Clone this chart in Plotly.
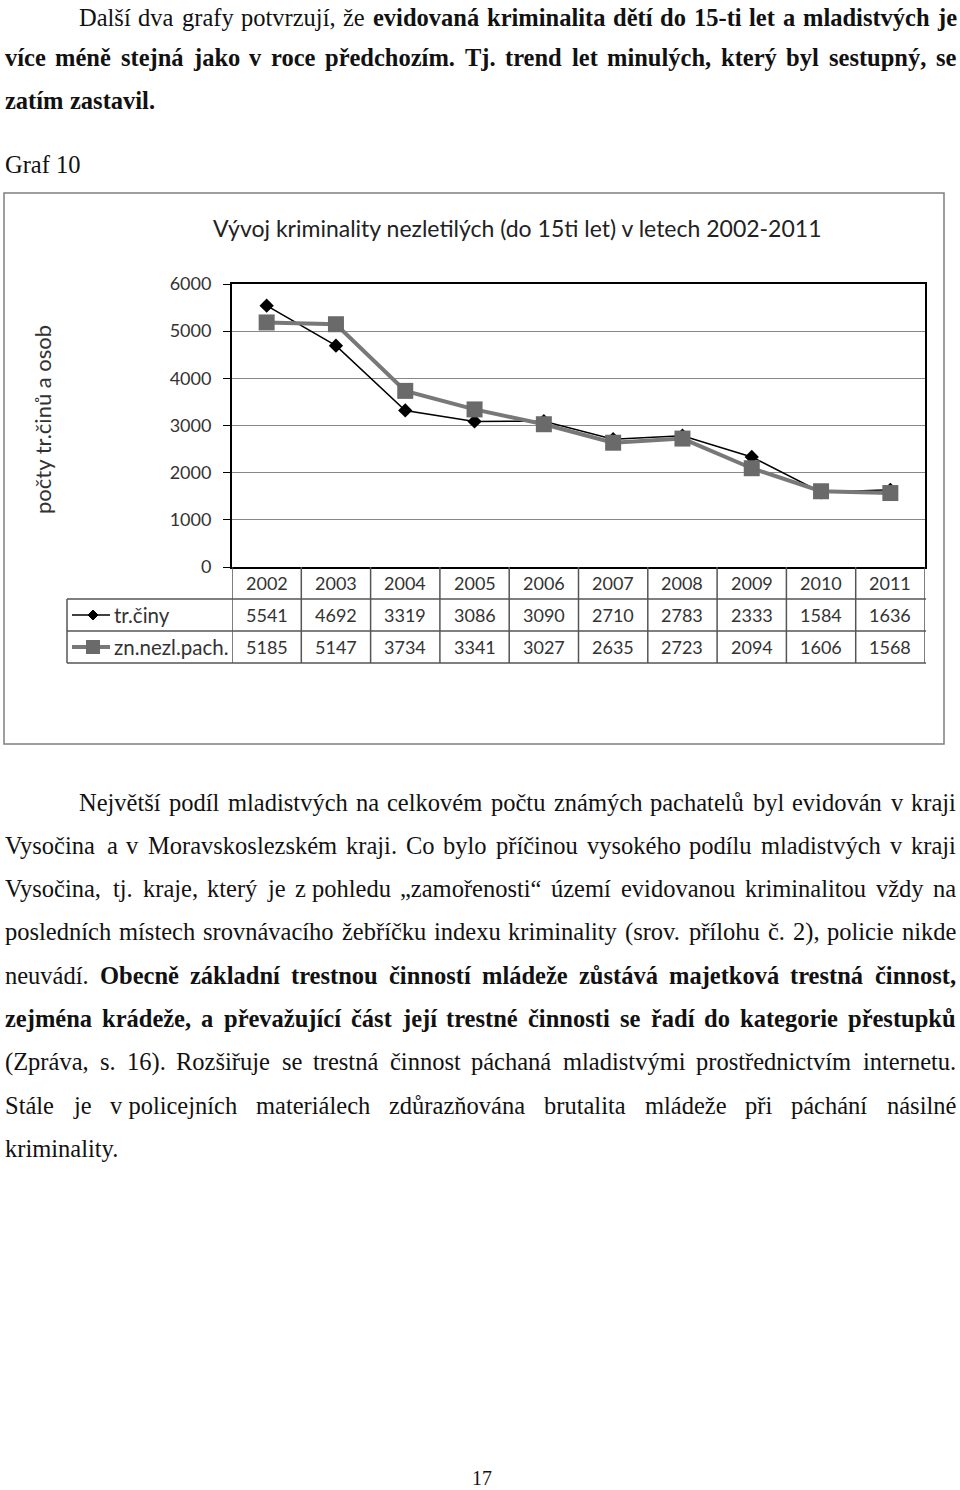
import unicodedata
import plotly.graph_objects as go

# ---------------- data ----------------
years = ["2002", "2003", "2004", "2005", "2006", "2007", "2008", "2009", "2010", "2011"]
tr_ciny = [5541, 4692, 3319, 3086, 3090, 2710, 2783, 2333, 1584, 1636]
zn_nezl_pach = [5185, 5147, 3734, 3341, 3027, 2635, 2723, 2094, 1606, 1568]
series_names = ["tr.činy", "zn.nezl.pach."]
y_ticks = [0, 1000, 2000, 3000, 4000, 5000, 6000]
chart_title = "Vývoj kriminality nezletilých (do 15ti let) v letech 2002-2011"
y_title = "počty tr.činů a osob"
caption = "Graf 10"
page_number = "17"

# page text: (runs, justified)
para1 = [
    ([("Další dva grafy potvrzují, že", False),
      ("evidovaná kriminalita dětí do 15-ti let a mladistvých je", True)], True),
    ([("více méně stejná jako v roce předchozím. Tj. trend let minulých, který byl sestupný, se", True)], True),
    ([("zatím zastavil.", True)], False),
]
para2 = [
    ([("Největší podíl mladistvých na celkovém počtu známých pachatelů byl evidován v kraji", False)], True),
    ([("Vysočina a v Moravskoslezském kraji. Co bylo příčinou vysokého podílu mladistvých v kraji", False)], True),
    ([("Vysočina, tj. kraje, který je z\u00a0pohledu „zamořenosti“ území evidovanou kriminalitou vždy na", False)], True),
    ([("posledních místech srovnávacího žebříčku indexu kriminality (srov. přílohu č. 2), policie nikde", False)], True),
    ([("neuvádí.", False),
      ("Obecně základní trestnou činností mládeže zůstává majetková trestná činnost,", True)], True),
    ([("zejména krádeže, a převažující část její trestné činnosti se řadí do kategorie přestupků", True)], True),
    ([("(Zpráva, s. 16). Rozšiřuje se trestná činnost páchaná mladistvými prostřednictvím internetu.", False)], True),
    ([("Stále je v\u00a0policejních materiálech zdůrazňována brutalita mládeže při páchání násilné", False)], True),
    ([("kriminality.", False)], False),
]

# ---------------- helpers ----------------
W, H = 960, 1490


def px(x):
    return x / W


def py(y):
    return 1 - y / H


SERIF = "Liberation Serif"
SANS = "Lato"
FS = 24.5

REG_W = dict(zip("abcdefghijklmnopqrstuvwxyz",
                 [444, 500, 444, 500, 444, 333, 500, 500, 278, 278, 500, 278, 778,
                  500, 500, 500, 500, 333, 389, 278, 500, 500, 722, 500, 500, 444]))
REG_W.update(dict(zip("ABCDEFGHIJKLMNOPQRSTUVWXYZ",
                      [722, 667, 667, 722, 611, 556, 722, 722, 333, 389, 722, 611, 889,
                       722, 722, 556, 722, 667, 556, 611, 722, 722, 944, 722, 722, 611])))
BOLD_W = dict(zip("abcdefghijklmnopqrstuvwxyz",
                  [500, 556, 444, 556, 444, 333, 500, 556, 278, 333, 556, 278, 833,
                   556, 500, 556, 556, 444, 389, 333, 556, 500, 722, 500, 500, 444]))
BOLD_W.update(dict(zip("ABCDEFGHIJKLMNOPQRSTUVWXYZ",
                       [722, 667, 722, 722, 667, 611, 778, 778, 389, 500, 778, 667, 944,
                        722, 778, 611, 778, 722, 556, 667, 722, 722, 1000, 722, 722, 667])))
for t in (REG_W, BOLD_W):
    t.update({c: 500 for c in "0123456789"})
    t.update({" ": 250, "\u00a0": 250, ".": 250, ",": 250, "-": 333,
              "(": 333, ")": 333, "„": 444, "“": 444})


def char_w(ch, bold):
    tbl = BOLD_W if bold else REG_W
    if ch in tbl:
        return tbl[ch]
    base = unicodedata.normalize("NFD", ch)[0]
    return tbl.get(base, 500)


def word_w(word, bold, fs):
    return sum(char_w(c, bold) for c in word) * fs / 1000.0


annotations = []
shapes = []


def note(x, y, text, size, family=SANS, color="#333333", xanchor="center", **kw):
    d = dict(x=x, y=y, xref="paper", yref="paper", xanchor=xanchor, yanchor="middle",
             text=text, showarrow=False, borderpad=0, borderwidth=0,
             font=dict(family=family, size=size, color=color))
    d.update(kw)
    annotations.append(d)


def text_line(runs, justified, x0, x1, yc):
    words = []
    for txt, bold in runs:
        for wd in txt.split(" "):
            if wd:
                words.append((wd, bold))
    widths = [word_w(wd, b, FS) for wd, b in words]
    if justified and len(words) > 1:
        gap = (x1 - x0 - sum(widths)) / (len(words) - 1)
    else:
        gap = 0.25 * FS
    x = x0
    for (wd, b), wdt in zip(words, widths):
        note(px(x), py(yc), f"<b>{wd}</b>" if b else wd, FS, SERIF, "#111111", "left")
        x += wdt + gap


LINE = 43.3
para1_y = [17, 57.5, 100.5]
for i, (runs, just) in enumerate(para1):
    text_line(runs, just, 79 if i == 0 else 5, 956, para1_y[i])
for i, (runs, just) in enumerate(para2):
    text_line(runs, just, 79 if i == 0 else 5, 956, 802 + i * LINE)

note(px(5), py(164), caption, FS, SERIF, "#111111", "left")
note(px(482), py(1478), page_number, 20, SERIF, "#111111")

# ---------------- chart ----------------
fig = go.Figure()
fig.add_trace(go.Scatter(x=years, y=tr_ciny, name=series_names[0], mode="lines+markers",
                         line=dict(color="black", width=1.5),
                         marker=dict(symbol="diamond", size=11, color="black")))
fig.add_trace(go.Scatter(x=years, y=zn_nezl_pach, name=series_names[1], mode="lines+markers",
                         line=dict(color="#787878", width=4),
                         marker=dict(symbol="square", size=16, color="#6a6a6a")))

CH = "#333333"
note(px(517), py(228), chart_title, 23, SANS, "#222222")
note(px(42), py(420), y_title, 22, SANS, CH, textangle=-90)

# outer chart border
shapes.append(dict(type="rect", xref="paper", yref="paper", x0=px(4), x1=px(944),
                   y0=py(744), y1=py(193), line=dict(color="#7f7f7f", width=1.5)))

# data table
TL = dict(color="#555555", width=1.5)
row_y = [583, 615, 647]
for yy in (599, 631, 663):
    shapes.append(dict(type="line", xref="paper", yref="paper", x0=px(67), x1=px(926),
                       y0=py(yy), y1=py(yy), line=TL))
shapes.append(dict(type="line", xref="paper", yref="paper", x0=px(67), x1=px(67),
                   y0=py(599), y1=py(663), line=TL))
for i in range(len(years) + 1):
    shapes.append(dict(type="line", xref="x", yref="paper", x0=i - 0.5, x1=i - 0.5,
                       y0=py(567), y1=py(663), line=TL))
for j, (yr, a, b) in enumerate(zip(years, tr_ciny, zn_nezl_pach)):
    for val, ry in ((yr, row_y[0]), (a, row_y[1]), (b, row_y[2])):
        annotations.append(dict(x=j, y=py(ry), xref="x", yref="paper", yanchor="middle",
                                text=str(val), showarrow=False,
                                font=dict(family=SANS, size=18, color=CH)))

# legend keys in table
shapes.append(dict(type="line", xref="paper", yref="paper", x0=px(72), x1=px(110),
                   y0=py(row_y[1]), y1=py(row_y[1]), line=dict(color="black", width=1.5)))
shapes.append(dict(type="path", xref="paper", yref="paper", fillcolor="black",
                   line=dict(color="black", width=1),
                   path=f"M {px(88)} {py(615)} L {px(93)} {py(610)} L {px(98)} {py(615)} "
                        f"L {px(93)} {py(620)} Z"))
shapes.append(dict(type="line", xref="paper", yref="paper", x0=px(72), x1=px(110),
                   y0=py(row_y[2]), y1=py(row_y[2]), line=dict(color="#787878", width=4)))
shapes.append(dict(type="rect", xref="paper", yref="paper", x0=px(86), x1=px(100),
                   y0=py(654), y1=py(640), fillcolor="#6a6a6a", line=dict(width=0)))
for name, ry in zip(series_names, row_y[1:]):
    note(px(114), py(ry), name, 20.5, SANS, CH, "left")

fig.update_layout(
    width=W, height=H, margin=dict(l=0, r=0, t=0, b=0, autoexpand=False),
    paper_bgcolor="white", plot_bgcolor="white", showlegend=False,
    xaxis=dict(type="category", categoryorder="array", categoryarray=years,
               range=[-0.5, len(years) - 0.5], domain=[px(232), px(925)],
               showline=True, linecolor="black", linewidth=2, mirror=True,
               showticklabels=False, ticks="", showgrid=False, zeroline=False),
    yaxis=dict(range=[0, 6000], tickvals=y_ticks, domain=[py(567), py(284)],
               showgrid=True, gridcolor="#878787", gridwidth=1,
               showline=True, linecolor="black", linewidth=2, mirror=True,
               ticks="outside", ticklen=7, tickcolor="black", ticklabelstandoff=8,
               tickfont=dict(family=SANS, size=18, color=CH), zeroline=False),
    annotations=annotations, shapes=shapes,
)

fig.write_html("out.html")
